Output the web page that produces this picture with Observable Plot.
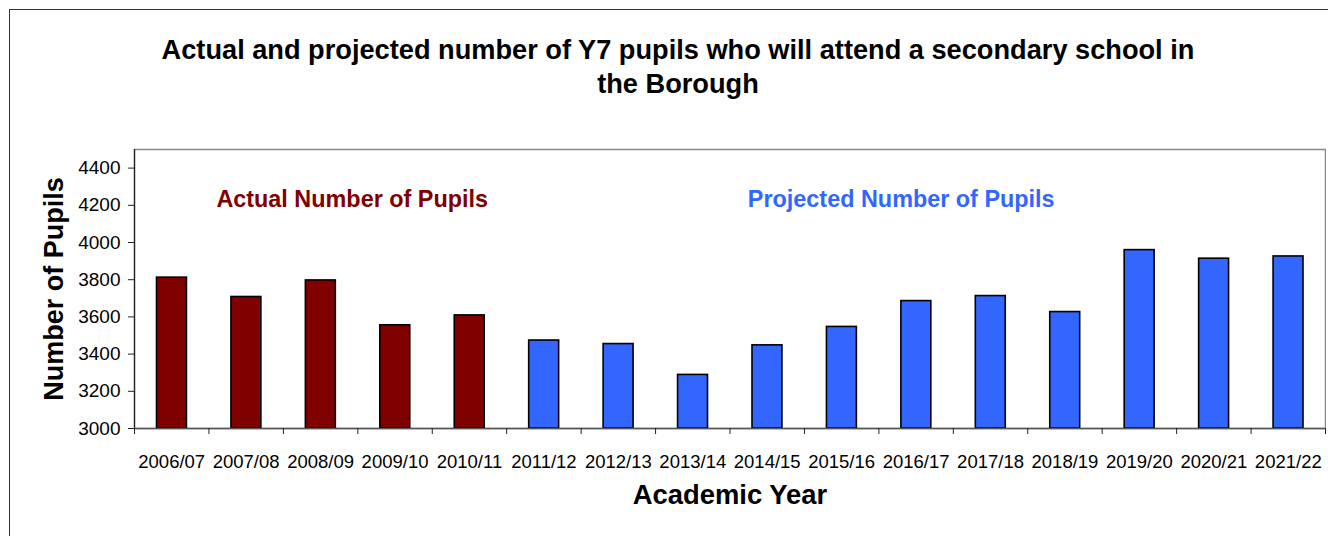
<!DOCTYPE html>
<html>
<head>
<meta charset="utf-8">
<script src="https://cdn.jsdelivr.net/npm/d3@7"></script>
<script src="https://cdn.jsdelivr.net/npm/@observablehq/plot@0.6"></script>
<style>
  html, body { margin: 0; padding: 0; background: #fff; overflow: hidden; }
  #wrap { position: relative; width: 1328px; height: 536px; overflow: hidden; font-family: "Liberation Sans", Arial, sans-serif; background: #fff; }
  #bTop { position: absolute; left: 9px; top: 9px; width: 1319px; height: 1px; background: #333; }
  #bLeft { position: absolute; left: 9px; top: 9px; width: 1px; height: 527px; background: #333; }
  #edge { position: absolute; left: 1326px; top: 10px; width: 2px; height: 526px; background: #fff; z-index: 5; }
  #title { position: absolute; left: 0; top: 33px; width: 1356px; text-align: center; font-weight: bold; font-size: 27.2px; line-height: 34px; color: #000; }
  #chart { position: absolute; left: 0; top: 0; width: 1328px; height: 536px; }
  #chart svg { display: block; }
</style>
</head>
<body>
<div id="wrap">
  <div id="chart"></div>
  <div id="bTop"></div>
  <div id="bLeft"></div>
  <div id="edge"></div>
  <div id="title">Actual and projected number of Y7 pupils who will attend a secondary school in<br>the Borough</div>
</div>
<script>
// Data
const years = ["2006/07","2007/08","2008/09","2009/10","2010/11","2011/12","2012/13","2013/14","2014/15","2015/16","2016/17","2017/18","2018/19","2019/20","2020/21","2021/22"];
const pupils = [3811,3707,3796,3555,3608,3473,3454,3288,3447,3546,3685,3712,3626,3959,3913,3925];
const status = ["Actual","Actual","Actual","Actual","Actual","Projected","Projected","Projected","Projected","Projected","Projected","Projected","Projected","Projected","Projected","Projected"];
const statusNames = ["Actual","Projected"];
const statusColors = ["#800000","#3366FF"];
const yTicks = [3000,3200,3400,3600,3800,4000,4200,4400];
const annotationLabels = ["Actual Number of Pupils","Projected Number of Pupils"];
const annotationX = [1.1, 8.24];   // in category-index units
const annotationY = [4230, 4230];  // in pupil units

const rows = years.map((y, i) => ({year: y, i, value: pupils[i], status: status[i]}));
const notes = annotationLabels.map((t, k) => ({text: t, x: annotationX[k], y: annotationY[k], status: statusNames[k]}));
const font = "Liberation Sans, Arial, sans-serif";

const chart = Plot.plot({
  width: 1328,
  height: 536,
  marginTop: 149,
  marginLeft: 134,
  marginRight: 3,
  marginBottom: 108,
  style: {fontFamily: font, fontSize: "18px", color: "#000", background: "transparent"},
  x: {type: "linear", domain: [0, years.length], axis: null},
  y: {domain: [3000, 4500], axis: null},
  color: {domain: statusNames, range: statusColors},
  marks: [
    Plot.frame({stroke: "#888", strokeWidth: 1.5}),
    Plot.rectY(rows, {x1: d => d.i, x2: d => d.i + 1, y1: 3000, y2: "value", insetLeft: 22.5, insetRight: 22, fill: "status", stroke: "#000", strokeWidth: 1.6}),
    Plot.ruleX([0], {stroke: "#222", strokeWidth: 1.2}),
    Plot.ruleY([3000], {stroke: "#555", strokeWidth: 1.5}),
    Plot.axisY({ticks: yTicks, tickSize: 6, tickFormat: () => "", label: null, stroke: "#222"}),
    Plot.text(yTicks, {y: d => d, text: d => String(d), frameAnchor: "left", dx: -14, textAnchor: "end", fontSize: 19, fill: "#000"}),
    Plot.axisX({ticks: d3.range(years.length + 1), tickSize: 6, tickFormat: () => "", label: null, stroke: "#222"}),
    Plot.text(rows, {x: d => d.i + 0.5, text: "year", frameAnchor: "bottom", lineAnchor: "middle", dy: 34, fontSize: 18.5, fill: "#000"}),
    Plot.text(notes, {x: "x", y: "y", text: "text", fill: "status", textAnchor: "start", fontSize: 23.4, fontWeight: "bold"}),
    Plot.text(["Number of Pupils"], {frameAnchor: "left", textAnchor: "middle", lineAnchor: "middle", dx: -80, rotate: -90, fontSize: 27, fontWeight: "bold", fill: "#000"}),
    Plot.text(["Academic Year"], {frameAnchor: "bottom", lineAnchor: "middle", dy: 67, fontSize: 27.4, fontWeight: "bold", fill: "#000"})
  ]
});
document.getElementById("chart").appendChild(chart);
</script>
</body>
</html>
